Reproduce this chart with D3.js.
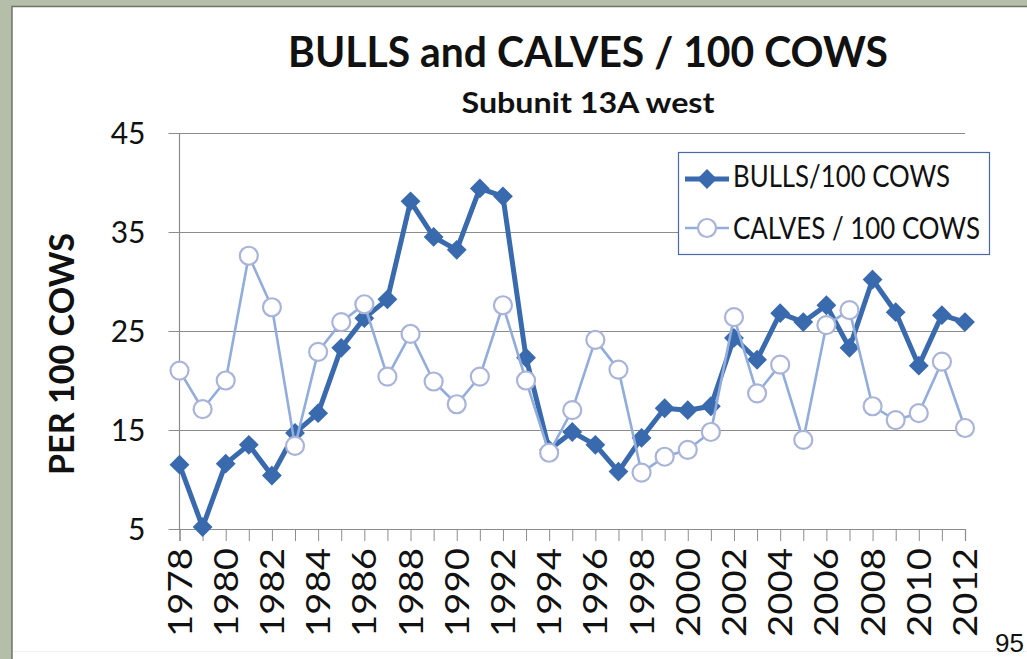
<!DOCTYPE html>
<html>
<head>
<meta charset="utf-8">
<script src="https://cdn.jsdelivr.net/npm/d3@7"></script>
<style>
  html, body { margin: 0; padding: 0; background: #b5bea8; overflow: hidden; }
  svg { display: block; }
  text { font-family: Lato, "Open Sans", sans-serif; fill: #111; }
</style>
</head>
<body>
<svg id="chart" width="1027" height="659"></svg>
<script>
// Survey years and ratios per 100 cows
const years = [1978, 1979, 1980, 1981, 1982, 1983, 1984, 1985, 1986, 1987,
               1988, 1989, 1990, 1991, 1992, 1993, 1994, 1995, 1996, 1997,
               1998, 1999, 2000, 2001, 2002, 2003, 2004, 2005, 2006, 2007,
               2008, 2009, 2010, 2011, 2012];
const bulls = [11.5, 5.2, 11.6, 13.5, 10.4, 14.7, 16.7, 23.3, 26.3, 28.2,
               38.1, 34.5, 33.2, 39.4, 38.6, 22.3, 13.0, 14.8, 13.5, 10.8,
               14.2, 17.2, 17.0, 17.4, 24.3, 22.1, 26.8, 25.9, 27.6, 23.3,
               30.2, 26.9, 21.5, 26.6, 25.9];
const calves = [21.0, 17.1, 20.0, 32.6, 27.4, 13.4, 22.9, 25.9, 27.7, 20.4,
                24.7, 19.9, 17.6, 20.4, 27.6, 20.0, 12.7, 17.0, 24.1, 21.1,
                10.7, 12.3, 13.0, 14.8, 26.4, 18.7, 21.6, 14.0, 25.6, 27.1,
                17.4, 16.0, 16.7, 21.9, 15.2];
const yTicks = [5, 15, 25, 35, 45];
const seriesNames = ["BULLS/100 COWS", "CALVES / 100 COWS"];

const BULL = "#3a6aae";
const CALF_LINE = "#92acdc";
const CALF_RING = "#a9b4d8";
const GRID = "#8c8c8c";

const svg = d3.select("#chart");

// slide frame
svg.append("rect").attr("x", 12).attr("y", 7).attr("width", 1015).attr("height", 652)
  .attr("fill", "#ffffff");
svg.append("path").attr("d", "M12,659 V6.5 H1027")
  .attr("fill", "none").attr("stroke", "#6f7468").attr("stroke-width", 1.5);
svg.append("line").attr("x1", 14).attr("x2", 1027).attr("y1", 651.5).attr("y2", 651.5)
  .attr("stroke", "#f0f0f0").attr("stroke-width", 1);

const x = d3.scalePoint().domain(years).range([179.5, 965]);
const y = d3.scaleLinear().domain([5, 45]).range([529, 133]);

// gridlines with outward ticks on the left
const yAxis = d3.axisLeft(y).tickValues(yTicks).tickSize(-(965 - 179.5)).tickPadding(0)
  .tickFormat(d3.format("d"));
const gy = svg.append("g").attr("transform", "translate(179.5,0)").call(yAxis);
gy.select(".domain").remove();
gy.selectAll(".tick line").attr("x1", -11).attr("stroke", GRID).attr("stroke-width", 1);
gy.selectAll(".tick text").attr("x", -34).attr("dy", "0.36em")
  .style("font-size", "30px").style("fill", "#111");

// vertical axis line
svg.append("line").attr("x1", 179.5).attr("x2", 179.5).attr("y1", 133).attr("y2", 529)
  .attr("stroke", GRID).attr("stroke-width", 1.2);

// x axis with a tick for every year, label every second year
const xAxis = d3.axisBottom(x).tickSize(12).tickPadding(0)
  .tickFormat(d => (d % 2 === 0 ? String(d) : ""));
const gx = svg.append("g").attr("transform", "translate(0,529)").call(xAxis);
gx.select(".domain").attr("stroke", GRID).attr("stroke-width", 1.2);
gx.selectAll(".tick line").attr("stroke", GRID).attr("stroke-width", 1);
gx.selectAll(".tick text")
  .attr("text-anchor", "end")
  .attr("x", 0).attr("y", 0).attr("dy", "0.36em")
  .attr("transform", "translate(0,19) rotate(-90)")
  .style("font-size", "32px").style("fill", "#111")
  .each(function (d) {
    if (d % 2 === 0) d3.select(this).attr("textLength", 89).attr("lengthAdjust", "spacingAndGlyphs");
  });

// series
const lineGen = vals => d3.line().x((d, i) => x(years[i])).y(d => y(d))(vals);
const diamond = d3.symbol().type(d3.symbolDiamond2).size(200);

svg.append("path").attr("d", lineGen(bulls)).attr("fill", "none")
  .attr("stroke", BULL).attr("stroke-width", 5).attr("stroke-linejoin", "round");
svg.append("g").selectAll("path").data(bulls).join("path")
  .attr("transform", (d, i) => `translate(${x(years[i])},${y(d)})`)
  .attr("d", diamond).attr("fill", BULL).attr("stroke", BULL).attr("stroke-width", 1.5);

svg.append("path").attr("d", lineGen(calves)).attr("fill", "none")
  .attr("stroke", CALF_LINE).attr("stroke-width", 2.6).attr("stroke-linejoin", "round");
svg.append("g").selectAll("circle").data(calves).join("circle")
  .attr("cx", (d, i) => x(years[i])).attr("cy", d => y(d)).attr("r", 9)
  .attr("fill", "#ffffff").attr("stroke", CALF_RING).attr("stroke-width", 2.2);

// legend
const lg = svg.append("g");
lg.append("rect").attr("x", 678.5).attr("y", 152.5).attr("width", 311).attr("height", 102)
  .attr("fill", "#ffffff").attr("stroke", "#4a67a8").attr("stroke-width", 1.2);
lg.append("line").attr("x1", 685).attr("x2", 729).attr("y1", 179).attr("y2", 179)
  .attr("stroke", BULL).attr("stroke-width", 5);
lg.append("path").attr("transform", "translate(707,179)").attr("d", diamond)
  .attr("fill", BULL).attr("stroke", BULL).attr("stroke-width", 1.5);
lg.append("line").attr("x1", 685).attr("x2", 729).attr("y1", 228).attr("y2", 228)
  .attr("stroke", CALF_LINE).attr("stroke-width", 2.6);
lg.append("circle").attr("cx", 707).attr("cy", 228).attr("r", 9)
  .attr("fill", "#ffffff").attr("stroke", CALF_RING).attr("stroke-width", 2.2);
lg.append("text").attr("x", 733).attr("y", 187).text(seriesNames[0])
  .style("font-size", "30px").attr("textLength", 217).attr("lengthAdjust", "spacingAndGlyphs");
lg.append("text").attr("x", 733).attr("y", 239).text(seriesNames[1])
  .style("font-size", "30px").attr("textLength", 247).attr("lengthAdjust", "spacingAndGlyphs");

// titles
svg.append("text").attr("x", 588).attr("y", 67).attr("text-anchor", "middle")
  .text("BULLS and CALVES / 100 COWS")
  .style("font-size", "42px").style("font-weight", "bold")
  .attr("textLength", 600).attr("lengthAdjust", "spacingAndGlyphs");
svg.append("text").attr("x", 588).attr("y", 113).attr("text-anchor", "middle")
  .text("Subunit 13A west")
  .style("font-size", "28px").style("font-weight", "bold")
  .attr("textLength", 253).attr("lengthAdjust", "spacingAndGlyphs");
svg.append("text").attr("text-anchor", "middle").attr("dy", "0.36em")
  .attr("transform", "translate(62,354) rotate(-90)")
  .text("PER 100 COWS")
  .style("font-size", "34px").style("font-weight", "bold")
  .attr("textLength", 242).attr("lengthAdjust", "spacingAndGlyphs");

// slide number
svg.append("text").attr("x", 1024).attr("y", 652).attr("text-anchor", "end").text("95")
  .style("font-family", "'Liberation Sans', Arial, sans-serif").style("font-size", "26px");
</script>
</body>
</html>
